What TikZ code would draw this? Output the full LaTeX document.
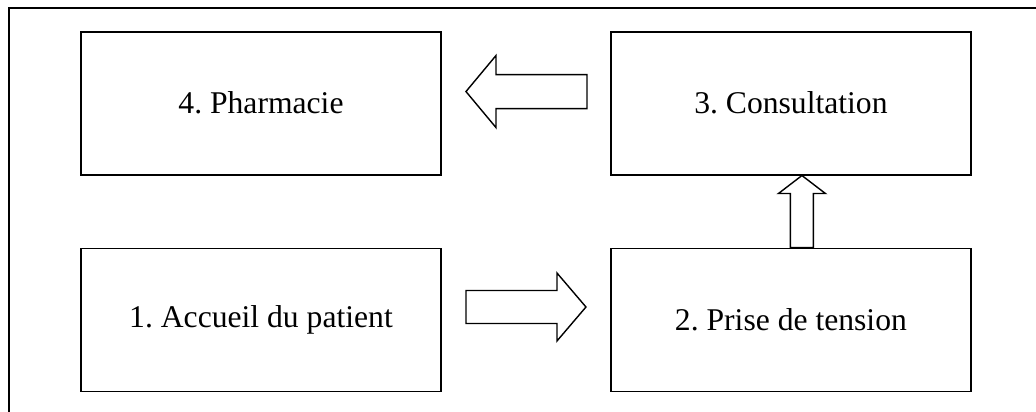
\documentclass[tikz,border=0pt]{standalone}
\usepackage{fontspec}
\setmainfont{Liberation Serif}
\frenchspacing
\usetikzlibrary{positioning,calc}
\tikzset{
  stepbox/.style={draw, line width=1.1pt, minimum width=7.2cm, minimum height=2.86cm,
    font=\fontsize{18}{22}\selectfont},
  blockarrow/.style={draw, line width=0.8pt, line join=miter}
}
\begin{document}
\begin{tikzpicture}
\useasboundingbox (0,0) rectangle (20.72,-8.24);
\clip (0,0) rectangle (20.72,-8.24);
% outer frame
\draw[line width=1pt] (0.18,-0.16) rectangle (21,-9);
% the four steps
\node[stepbox] (accueil) at (5.22,-6.4) {1. Accueil du patient};
\node[stepbox, right=3.36cm of accueil] (tension) {2. Prise de tension};
\node[stepbox, above=1.44cm of tension] (consult) {3. Consultation};
\node[stepbox, left=3.36cm of consult] (pharma) {4. Pharmacie};
% block arrows between the steps
\coordinate (a12) at ($(accueil.east)+(0.48,0.26)$);
\coordinate (a23) at ($(tension.north)+(0.22,0)$);
\coordinate (a34) at ($(consult.west)+(-0.46,0.23)$);
\draw[blockarrow] (a12) ++(0,0.33) -- ++(1.82,0) -- ++(0,0.35) -- ++(0.58,-0.68)
  -- ++(-0.58,-0.68) -- ++(0,0.35) -- ++(-1.82,0) -- cycle;
\draw[blockarrow] (a23) ++(-0.23,0) -- ++(0,1.08) -- ++(-0.24,0) -- ++(0.47,0.36)
  -- ++(0.47,-0.36) -- ++(-0.24,0) -- ++(0,-1.08) -- cycle;
\draw[blockarrow] (a34) ++(0,0.34) -- ++(-1.82,0) -- ++(0,0.38) -- ++(-0.6,-0.72)
  -- ++(0.6,-0.72) -- ++(0,0.38) -- ++(1.82,0) -- cycle;
\end{tikzpicture}
\end{document}
